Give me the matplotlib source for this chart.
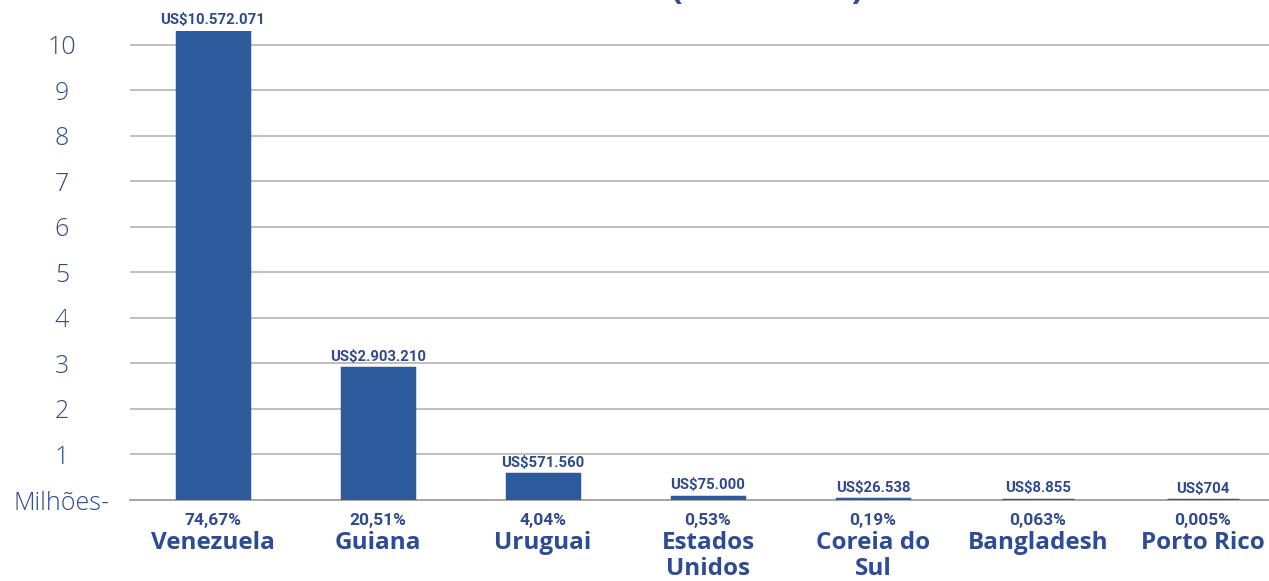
import matplotlib
matplotlib.use("Agg")
import matplotlib.pyplot as plt
from matplotlib.transforms import ScaledTranslation

countries = ["Venezuela", "Guiana", "Uruguai", "Estados\nUnidos", "Coreia do\nSul", "Bangladesh", "Porto Rico"]
values_usd = [10572071, 2903210, 571560, 75000, 26538, 8855, 704]
value_labels = ["US$10.572.071", "US$2.903.210", "US$571.560", "US$75.000", "US$26.538", "US$8.855", "US$704"]
shares = ["74,67%", "20,51%", "4,04%", "0,53%", "0,19%", "0,063%", "0,005%"]
yticks = [0, 1, 2, 3, 4, 5, 6, 7, 8, 9, 10]
ytick_labels = ["Milhões-", "1", "2", "3", "4", "5", "6", "7", "8", "9", "10"]
title = "(2013-2022)"

values = [v / 1e6 for v in values_usd]

W, H = 1269, 581
fig = plt.figure(figsize=(W / 100, H / 100), dpi=100)
ax = fig.add_axes([130 / W, (H - 500) / H, 1 - 130 / W, (500 - 31) / H])

bar_color = "#2C5A9B"
text_color = "#2F4A8E"
name_color = "#2E4C95"
ytop = 10.3

x = list(range(len(countries)))
ax.bar(x, values, width=0.44, color=bar_color, edgecolor=bar_color,
       linewidth=2.5, zorder=5)
ax.set_xlim(-0.503, 6.4)
ax.set_ylim(0, ytop)

ax.set_yticks(yticks)
ax.set_yticklabels(ytick_labels)
shift = ScaledTranslation(0, -3 / 100, fig.dpi_scale_trans)
for lab in ax.get_yticklabels():
    lab.set_fontfamily("Open Sans")
    lab.set_fontweight("light")
    lab.set_fontsize(18)
    lab.set_color(text_color)
    lab.set_horizontalalignment("center")
    lab.set_transform(lab.get_transform() + shift)
ax.tick_params(axis="y", length=0, pad=49)
ax.set_xticks([])
ax.grid(axis="y", color="#BFBFBF", linewidth=1.4, zorder=0)
for s in ["top", "right", "left"]:
    ax.spines[s].set_visible(False)
ax.spines["bottom"].set_color("#A6A6A6")
ax.spines["bottom"].set_linewidth(1.4)
ax.spines["bottom"].set_zorder(2)

small = "Roboto"
for i, (v, lab) in enumerate(zip(values, value_labels)):
    ax.annotate(lab, (i, min(v, ytop)), xytext=(0, 3), textcoords="offset points",
                ha="center", va="bottom", fontsize=10.7, fontweight="bold",
                color=text_color, family=small, annotation_clip=False)

for i, (sh, name) in enumerate(zip(shares, countries)):
    ax.annotate(sh, (i, 0), xytext=(0, -9.5), textcoords="offset points",
                ha="center", va="top", fontsize=12.5, fontweight="bold",
                color=text_color, family=small, annotation_clip=False)
    ax.annotate(name, (i, 0), xytext=(0, -22.5), textcoords="offset points",
                ha="center", va="top", fontsize=17.5, fontweight="bold",
                color=name_color, family="Open Sans", linespacing=1.12,
                annotation_clip=False)

fig.text(767 / W, 1 + 1 / H, title, ha="center", va="baseline",
         fontsize=25, fontweight="bold", color=name_color, family="Open Sans")

fig.savefig("out.png", dpi=100)
